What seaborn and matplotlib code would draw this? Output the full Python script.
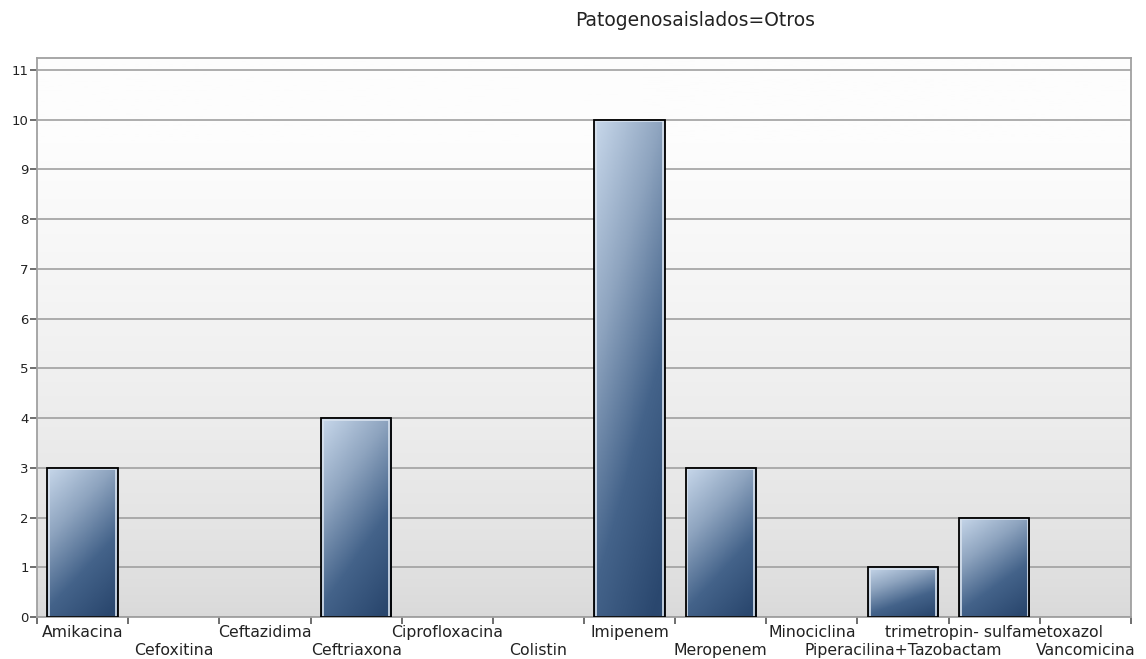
import numpy as np
import pandas as pd
import matplotlib.pyplot as plt
import seaborn as sns
from matplotlib.colors import LinearSegmentedColormap

# data
categories = ['Amikacina', 'Cefoxitina', 'Ceftazidima', 'Ceftriaxona', 'Ciprofloxacina',
              'Colistin', 'Imipenem', 'Meropenem', 'Minociclina',
              'Piperacilina+Tazobactam', 'trimetropin- sulfametoxazol', 'Vancomicina']
counts = [3, 0, 0, 4, 0, 0, 10, 3, 0, 1, 2, 0]
title = 'Patogenosaislados=Otros'

df = pd.DataFrame({'antibiotico': categories, 'n': counts})

sns.set_style('white')
plt.rcParams['font.family'] = ['DejaVu Sans']

fig = plt.figure(figsize=(11.46, 6.59), dpi=100)
ax = fig.add_axes([0.0323, 0.0637, 0.9546, 0.8483])

ax = sns.barplot(data=df, x='antibiotico', y='n', color='#3a5a80', width=0.77,
                 edgecolor='none', linewidth=0, ax=ax, zorder=3)

# background gradient (white on top, grey at bottom)
bg = np.linspace(0, 1, 256).reshape(-1, 1)
bg = np.clip(bg / 0.85, 0, 1) ** 0.7
bg_cmap = LinearSegmentedColormap.from_list('bg', ['#d9d9d9', '#fdfdfd'])
ax.imshow(bg, cmap=bg_cmap, aspect='auto', extent=[0, 1, 0, 1],
          transform=ax.transAxes, origin='lower', zorder=0)

# diagonal gradient inside each bar, light top-left to dark bottom
bar_cmap = LinearSegmentedColormap.from_list('bar', ['#c8d8eb', '#8ea4bf', '#44638a', '#2a476e'])
gx, gy = np.meshgrid(np.linspace(0, 1, 60), np.linspace(0, 1, 120))
for p in ax.patches:
    h = p.get_height()
    if h <= 0:
        continue
    x0, w = p.get_x(), p.get_width()
    grad = np.clip(0.35 * gx + 0.7 * gy, 0, 1)
    im = ax.imshow(grad, cmap=bar_cmap, aspect='auto', origin='upper',
                   extent=[x0, x0 + w, 0, h], zorder=3.5, vmin=0, vmax=1)
    im.set_clip_path(p)
    inner = plt.Rectangle((x0 + 0.02, 0), w - 0.04, h - 0.03, fill=False,
                          edgecolor='#d8e2ee', linewidth=1.2, zorder=3.6)
    ax.add_patch(inner)
    ax.add_patch(plt.Rectangle((x0, 0), w, h, fill=False, edgecolor='black',
                               linewidth=1.3, zorder=3.7))

ax.set_xlim(-0.5, len(categories) - 0.5)
ax.set_ylim(0, 11.24)
ax.set_yticks(range(0, 12))
ax.yaxis.grid(True, color='#a0a0a0', linewidth=1.2, zorder=1)
ax.set_axisbelow(True)

# staggered category labels, ticks at category boundaries
ax.set_xticks(range(len(categories)))
ax.set_xticklabels([])
ax.tick_params(axis='x', which='major', length=0)
ax.set_xticks(np.arange(-0.5, len(categories), 1), minor=True)
ax.tick_params(axis='x', which='minor', bottom=True, length=5, width=1.2,
               color='#555555', direction='out')
for i, lab in enumerate(categories):
    ypos = -0.028 if i % 2 == 0 else -0.06
    ax.text(i, ypos, lab, transform=ax.get_xaxis_transform(), ha='center', va='center',
            fontsize=11.3, color='#222222')

ax.tick_params(axis='y', length=5, width=1.2, color='#555555', labelsize=9.5,
               labelcolor='#222222', left=True, direction='out', pad=1)
for s in ax.spines.values():
    s.set_color('#a0a0a0')
    s.set_linewidth(1.3)

ax.set_xlabel('')
ax.set_ylabel('')
fig.text(695 / 1146, 1 - 20 / 659, title, ha='center', va='center', fontsize=13.5, color='#222222')

fig.savefig('out.png', dpi=100)
